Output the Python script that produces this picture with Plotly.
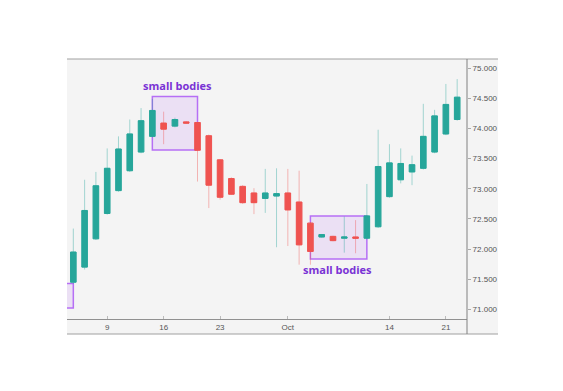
import plotly.graph_objects as go

dates = ['2019-09-04','2019-09-05','2019-09-06','2019-09-09','2019-09-10','2019-09-11','2019-09-12',
         '2019-09-13','2019-09-16','2019-09-17','2019-09-18','2019-09-19','2019-09-20','2019-09-23',
         '2019-09-24','2019-09-25','2019-09-26','2019-09-27','2019-09-30','2019-10-01','2019-10-02',
         '2019-10-03','2019-10-04','2019-10-07','2019-10-08','2019-10-09','2019-10-10','2019-10-11',
         '2019-10-14','2019-10-15','2019-10-16','2019-10-17','2019-10-18','2019-10-21','2019-10-22']
opens  = [71.45,71.70,72.17,72.59,72.97,73.30,73.61,73.87,74.09,74.04,74.11,74.10,73.88,73.48,
          73.17,73.04,72.93,72.84,72.88,72.93,72.78,72.43,72.20,72.21,72.18,72.20,72.18,72.37,
          72.87,73.15,73.28,73.34,73.61,73.91,74.15]
highs  = [72.34,73.15,73.28,73.67,73.87,74.15,74.34,74.49,74.28,74.18,74.12,74.11,73.90,73.49,
          73.19,73.06,73.01,73.33,73.34,73.33,73.30,72.45,72.25,72.22,72.54,72.48,73.08,73.98,
          73.74,73.67,73.55,74.41,74.31,74.74,74.82]
lows   = [71.42,71.66,72.15,72.57,72.95,73.28,73.59,73.85,73.74,74.02,74.08,73.12,72.68,72.82,
          72.90,72.75,72.58,72.60,72.03,72.05,71.74,71.74,72.19,72.13,71.94,71.93,72.16,72.35,
          72.85,73.09,73.06,73.32,73.59,73.89,74.13]
closes = [71.95,72.64,73.05,73.34,73.66,73.91,74.13,74.30,73.99,74.15,74.09,73.64,73.06,72.86,
          72.91,72.77,72.77,72.93,72.92,72.65,72.07,71.96,72.24,72.14,72.20,72.18,72.55,73.37,
          73.43,73.42,73.40,73.87,74.21,74.40,74.52]

tick_dates = ['2019-09-09','2019-09-16','2019-09-23','2019-10-01','2019-10-14','2019-10-21']
tick_text = ['9','16','23','Oct','14','21']
y_ticks = [71.0,71.5,72.0,72.5,73.0,73.5,74.0,74.5,75.0]

# highlighted regions: (x start, x end, y low, y high)
box1 = ('2019-09-13','2019-09-19',73.645,74.53)
box2 = ('2019-10-03','2019-10-10',71.835,72.548)
box0 = (-2,'2019-09-04',71.02,71.43)
label_text = 'small bodies'

GREEN = '#26a69a'
RED = '#ef5350'
GREEN_W = 'rgba(38,166,154,0.4)'
RED_W = 'rgba(239,83,80,0.4)'

body_hi = [max(o, c) for o, c in zip(opens, closes)]
body_lo = [min(o, c) for o, c in zip(opens, closes)]

fig = go.Figure()
# wicks (light)
fig.add_trace(go.Candlestick(
    x=dates, open=opens, high=highs, low=lows, close=closes,
    increasing=dict(line=dict(color=GREEN_W, width=1), fillcolor='rgba(0,0,0,0)'),
    decreasing=dict(line=dict(color=RED_W, width=1), fillcolor='rgba(0,0,0,0)'),
    showlegend=False, hoverinfo='skip'))
# bodies (solid)
fig.add_trace(go.Candlestick(
    x=dates, open=opens, high=body_hi, low=body_lo, close=closes,
    increasing=dict(line=dict(color=GREEN, width=1), fillcolor=GREEN),
    decreasing=dict(line=dict(color=RED, width=1), fillcolor=RED),
    showlegend=False))

shapes = []
# chart frame background
shapes.append(dict(type='rect', xref='paper', yref='paper', x0=0, x1=1.0775, y0=-0.0577, y1=1,
                   fillcolor='#f4f4f4', line=dict(width=0), layer='below'))
shapes.append(dict(type='line', xref='paper', yref='paper', x0=0, x1=1.0775, y0=1, y1=1,
                   line=dict(color='#a0a0a0', width=1)))
shapes.append(dict(type='line', xref='paper', yref='paper', x0=0, x1=1.0775, y0=-0.0577, y1=-0.0577,
                   line=dict(color='#a0a0a0', width=1)))
shapes.append(dict(type='line', xref='paper', yref='paper', x0=1, x1=1, y0=-0.0577, y1=1,
                   line=dict(color='#808080', width=1)))
for b in (box0, box1, box2):
    shapes.append(dict(type='rect', xref='x', yref='y', x0=b[0], x1=b[1], y0=b[2], y1=b[3],
                       fillcolor='rgba(215,180,245,0.3)', line=dict(color='#b66ff5', width=1.5),
                       layer='below'))

annotations = [
    dict(x=9.2, y=box1[3], xref='x', yref='y', text=f'<b>{label_text}</b>',
         showarrow=False, yanchor='bottom', yshift=2, xanchor='center',
         font=dict(family='Open Sans', size=11, color='#7a32d4')),
    dict(x=23.36, y=box2[2], xref='x', yref='y', text=f'<b>{label_text}</b>',
         showarrow=False, yanchor='top', yshift=-1, xanchor='center',
         font=dict(family='Open Sans', size=11, color='#7a32d4')),
]

fig.update_layout(
    width=563, height=391,
    margin=dict(l=59, r=104, t=51, b=80),
    paper_bgcolor='white', plot_bgcolor='#f4f4f4',
    shapes=shapes, annotations=annotations,
    showlegend=False,
    xaxis=dict(type='category', range=[-0.56, 34.87], rangeslider=dict(visible=False),
               tickvals=tick_dates, ticktext=tick_text, showgrid=False, zeroline=False,
               showline=True, linecolor='#909090', linewidth=1,
               ticks='inside', ticklen=3, tickcolor='#bbbbbb',
               tickfont=dict(family='Liberation Sans', size=8, color='#555555')),
    yaxis=dict(side='right', range=[70.839, 75.154], tickvals=y_ticks, tickformat='.3f',
               showgrid=False, zeroline=False, showline=False,
               ticks='outside', ticklen=3, tickcolor='#aaaaaa',
               tickfont=dict(family='Liberation Sans', size=8, color='#555555')),
)

fig.write_html('out.html')
